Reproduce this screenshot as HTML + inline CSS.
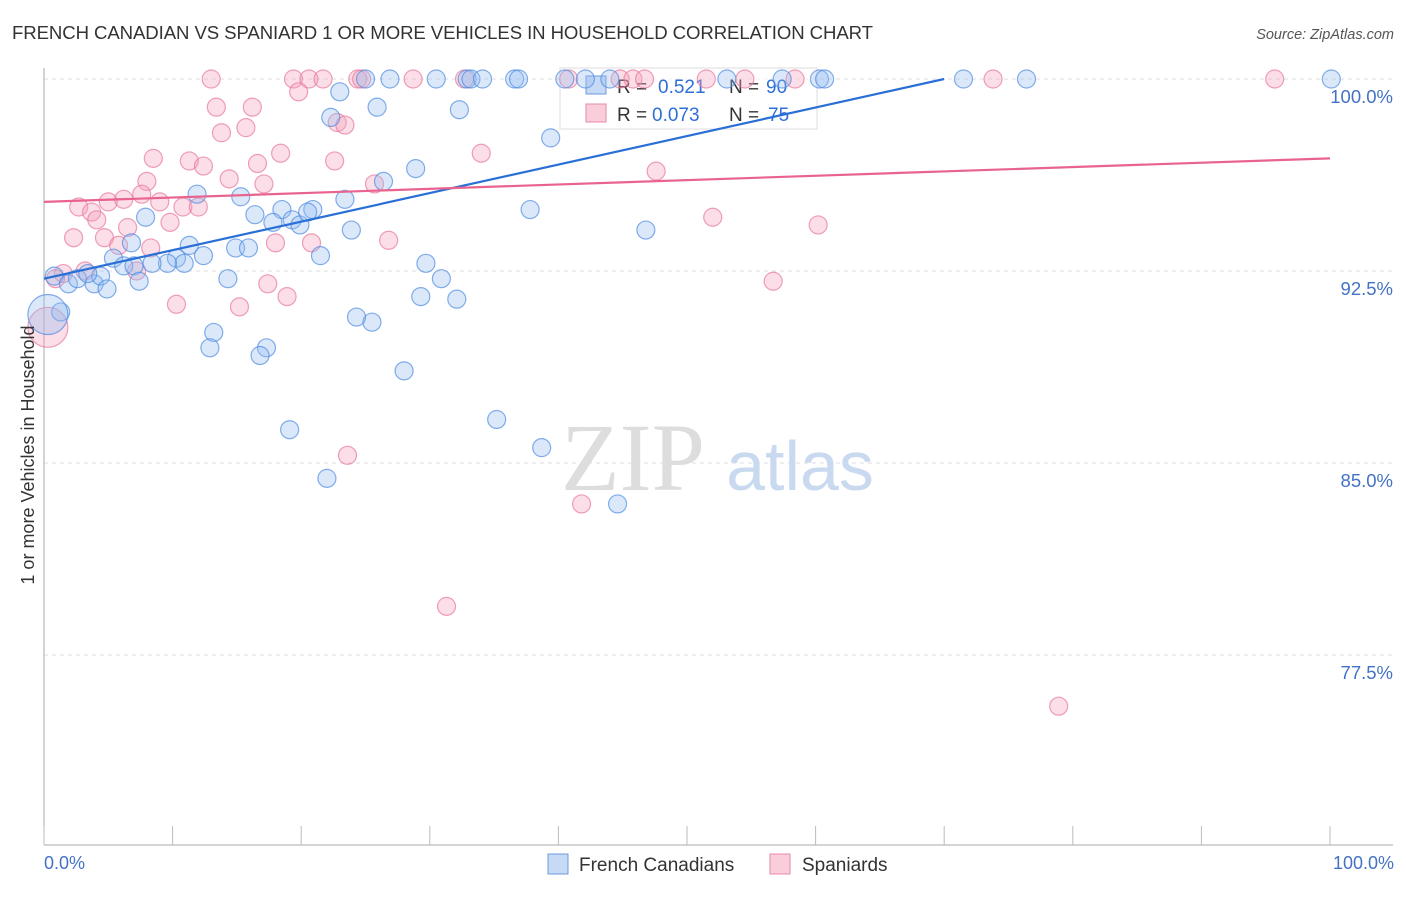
<!DOCTYPE html>
<html><head><meta charset="utf-8"><style>
body{margin:0;background:#fff;font-family:"Liberation Sans",sans-serif}
svg text{font-family:"Liberation Sans",sans-serif}
</style></head><body>
<svg width="1406" height="892">
<text x="12" y="39" font-size="18.6" fill="#333" textLength="861">FRENCH CANADIAN VS SPANIARD 1 OR MORE VEHICLES IN HOUSEHOLD CORRELATION CHART</text>
<text x="1394" y="39" font-size="14.5" fill="#555" font-style="italic" text-anchor="end">Source: ZipAtlas.com</text>
<g id="grid"></g>
<text x="633" y="490" font-size="96" fill="#ddd" text-anchor="middle" style="font-family:'Liberation Serif',serif">ZIP</text>
<text x="800" y="490" font-size="70" fill="#c9daf0" text-anchor="middle">atlas</text>
<g>
<rect x="560" y="68" width="257" height="61" fill="rgba(255,255,255,0.6)" stroke="#ddd"/>
<rect x="586" y="76" width="20" height="18" fill="#c6d9f5" stroke="#6d9be0"/>
<rect x="586" y="104" width="20" height="18" fill="#f9cdd9" stroke="#e88aa6"/>
<text x="617" y="93" font-size="19" fill="#333">R =</text>
<text x="658" y="93" font-size="19" fill="#2f6fd6">0.521</text>
<text x="729" y="93" font-size="19" fill="#333">N =</text>
<text x="766" y="93" font-size="19" fill="#2f6fd6">90</text>
<text x="617" y="121" font-size="19" fill="#333">R =</text>
<text x="652" y="121" font-size="19" fill="#2f6fd6">0.073</text>
<text x="729" y="121" font-size="19" fill="#333">N =</text>
<text x="768" y="121" font-size="19" fill="#2f6fd6">75</text>
</g>
<g id="pts"></g>
<g id="lines"></g>
<text transform="translate(34,455) rotate(-90)" font-size="18" fill="#333" text-anchor="middle">1 or more Vehicles in Household</text>
<text x="44" y="869" font-size="18" fill="#4472c4">0.0%</text>
<text x="1394" y="869" font-size="18" fill="#4472c4" text-anchor="end">100.0%</text>
<g>
<rect x="548" y="854" width="20" height="20" fill="#c6d9f5" stroke="#6d9be0"/>
<text x="579" y="871" font-size="19" fill="#333">French Canadians</text>
<rect x="770" y="854" width="20" height="20" fill="#f9cdd9" stroke="#e88aa6"/>
<text x="802" y="871" font-size="19" fill="#333">Spaniards</text>
</g>
</svg>
<script>
const yTicks=[100,92.5,85,77.5];
const yTickLabels=["100.0%","92.5%","85.0%","77.5%"];
const blueX=[25.0,26.9,30.5,32.9,33.2,34.1,36.6,36.9,40.5,42.1,44.0,53.1,57.4,60.3,60.7,71.5,76.4,100.1,23.0,25.9,32.3,22.3,39.4,28.9,26.4,11.9,15.3,23.4,18.5,20.9,16.4,7.9,17.8,19.3,19.9,20.5,37.8,23.9,46.8,11.3,14.9,15.9,6.8,12.4,10.3,10.9,21.5,9.6,5.4,6.2,7.0,0.8,1.9,3.9,4.4,2.6,4.9,3.4,7.4,8.4,29.7,30.9,14.3,29.3,32.1,1.3,25.5,13.2,24.3,12.9,17.3,16.8,28.0,19.1,35.2,38.7,22.0,44.6,0.3];
const blueY=[100,100,100,100,100,100,100,100,100,100,100,100,100,100,100,100,100,100,99.5,98.9,98.8,98.5,97.7,96.5,96.0,95.5,95.4,95.3,94.9,94.9,94.7,94.6,94.4,94.5,94.3,94.8,94.9,94.1,94.1,93.5,93.4,93.4,93.6,93.1,93.0,92.8,93.1,92.8,93.0,92.7,92.7,92.3,92.0,92.0,92.3,92.2,91.8,92.4,92.1,92.8,92.8,92.2,92.2,91.5,91.4,90.9,90.5,90.1,90.7,89.5,89.5,89.2,88.6,86.3,86.7,85.6,84.4,83.4,90.8];
const blueR=[9,9,9,9,9,9,9,9,9,9,9,9,9,9,9,9,9,9,9,9,9,9,9,9,9,9,9,9,9,9,9,9,9,9,9,9,9,9,9,9,9,9,9,9,9,9,9,9,9,9,9,9,9,9,9,9,9,9,9,9,9,9,9,9,9,9,9,9,9,9,9,9,9,9,9,9,9,9,20];
const pinkX=[13.0,19.4,20.6,21.7,24.4,24.7,28.7,32.7,40.8,44.8,45.8,46.7,51.5,54.5,58.4,73.8,95.7,19.8,13.4,16.2,13.8,15.7,22.8,23.4,8.5,11.3,12.4,18.4,22.6,34.0,47.6,16.6,8.0,14.4,17.1,25.7,7.6,2.7,3.7,5.0,6.2,9.0,10.8,12.0,4.1,9.8,6.5,2.3,4.7,5.8,8.3,18.0,20.8,26.8,52.0,60.2,1.5,0.9,3.2,7.2,17.4,18.9,10.3,15.2,56.7,0.3,23.6,41.8,31.3,78.9];
const pinkY=[100,100,100,100,100,100,100,100,100,100,100,100,100,100,100,100,100,99.5,98.9,98.9,97.9,98.1,98.3,98.2,96.9,96.8,96.6,97.1,96.8,97.1,96.4,96.7,96.0,96.1,95.9,95.9,95.5,95.0,94.8,95.2,95.3,95.2,95.0,95.0,94.5,94.4,94.2,93.8,93.8,93.5,93.4,93.6,93.6,93.7,94.6,94.3,92.4,92.2,92.5,92.5,92.0,91.5,91.2,91.1,92.1,90.3,85.3,83.4,79.4,75.5];
const blueLine=[[0,92.2],[70,100]];
const pinkLine=[[0,95.2],[100,96.9]];
const X=v=>44+v*12.86, Y=v=>79+(100-v)*25.6;
const NS="http://www.w3.org/2000/svg";
function mk(t,a,p){const e=document.createElementNS(NS,t);for(const k in a)e.setAttribute(k,a[k]);p.appendChild(e);return e;}
const grid=document.getElementById('grid');
yTicks.forEach((t,i)=>{
 const l=mk('line',{x1:44,x2:1393,y1:Y(t),y2:Y(t),stroke:'#ddd','stroke-dasharray':'4,4'},grid);
 
 
 const tx=mk('text',{x:1393,y:Y(t)+24,'font-size':18.5,fill:'#4472c4','text-anchor':'end'},grid);
 tx.textContent=yTickLabels[i];
 
 
});
const ax=mk('line',{x1:44,x2:44,y1:68,y2:845,stroke:'#aaa'},grid);


const bx=mk('line',{x1:44,x2:1393,y1:845,y2:845,stroke:'#aaa'},grid);


for(let i=0;i<=10;i++){const t=mk('line',{x1:X(i*10),x2:X(i*10),y1:826,y2:845,stroke:'#bbb'},grid);
 
 }
const pts=document.getElementById('pts');
pinkX.forEach((x,i)=>{const c=mk('circle',{cx:X(x),cy:Y(pinkY[i]),r:(i==65?20:9),fill:'rgba(244,160,185,0.35)',stroke:'rgba(232,120,155,0.7)','stroke-width':1.2},pts);
 
 });
blueX.forEach((x,i)=>{const c=mk('circle',{cx:X(x),cy:Y(blueY[i]),r:blueR[i],fill:'rgba(150,190,240,0.35)',stroke:'rgba(80,140,225,0.7)','stroke-width':1.2},pts);
 
 });
const lines=document.getElementById('lines');
const b=mk('line',{x1:X(blueLine[0][0]),y1:Y(blueLine[0][1]),x2:X(blueLine[1][0]),y2:Y(blueLine[1][1]),stroke:'#2a6fd6','stroke-width':2.2},lines);


const p=mk('line',{x1:X(pinkLine[0][0]),y1:Y(pinkLine[0][1]),x2:X(pinkLine[1][0]),y2:Y(pinkLine[1][1]),stroke:'#e8648e','stroke-width':2.2},lines);


</script>
</body></html>
